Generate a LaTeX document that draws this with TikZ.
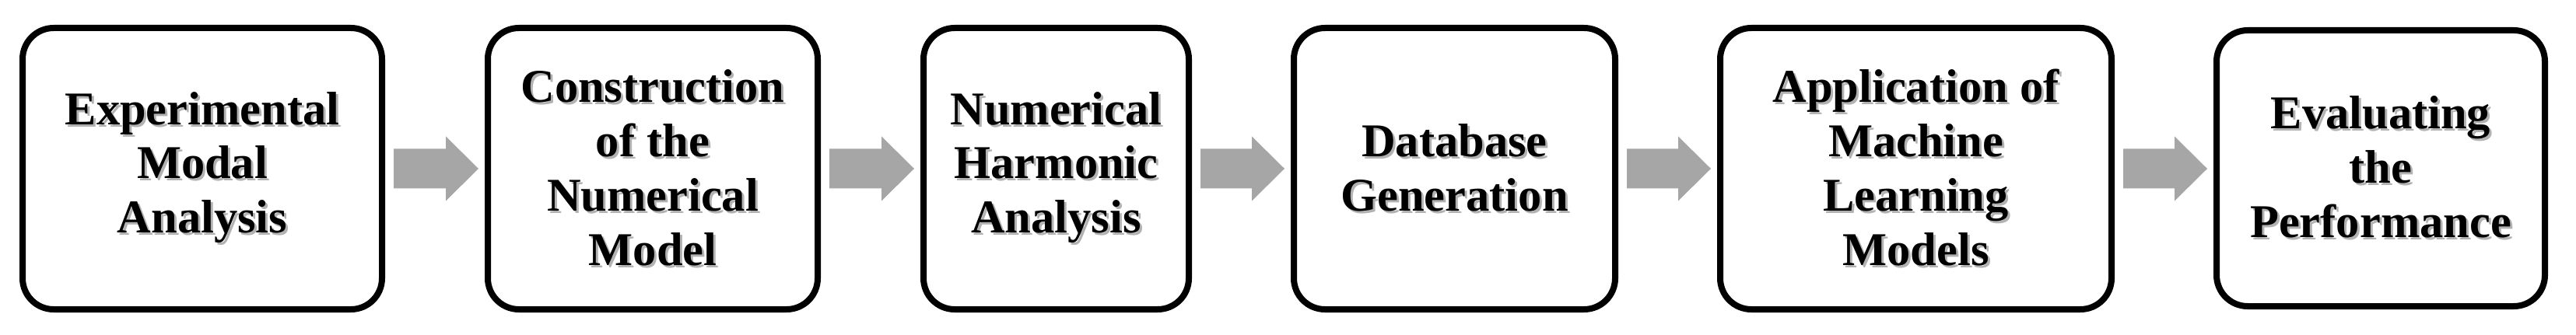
\documentclass[tikz,border=0pt]{standalone}
\usepackage{fontspec}
\setmainfont{Liberation Serif}
\usetikzlibrary{calc,shadows}
\definecolor{arrowgray}{HTML}{A6A6A6}
\newcommand{\tsh}[1]{\makebox[0pt][l]{\hspace{0.03cm}\raisebox{-0.03cm}{\color{black!30}#1}}#1}
\tikzset{
  stepbox/.style={draw=black, line width=0.08cm, rounded corners=0.4cm, fill=white,
    minimum height=3.62cm, inner sep=0pt, align=center,
    font=\fontsize{17.2pt}{19.9pt}\selectfont\bfseries,
    drop shadow={shadow xshift=0.025cm, shadow yshift=-0.03cm, fill=black, opacity=0.3}},
}
\newcommand{\blockarrow}[2]{%
  \fill[arrowgray] let \p1=(#1.east), \p2=(#2.west) in
    (\x1+0.11cm,\y1+0.255cm) -- (\x2-0.50cm,\y1+0.255cm) -- (\x2-0.50cm,\y1+0.415cm)
    -- (\x2-0.08cm,\y1) -- (\x2-0.50cm,\y1-0.415cm) -- (\x2-0.50cm,\y1-0.255cm)
    -- (\x1+0.11cm,\y1-0.255cm) -- cycle;}
\begin{document}
\begin{tikzpicture}
\useasboundingbox (0,0) rectangle (33.11,4.30);
\node[stepbox, minimum width=4.62cm] (b1) at (2.60,2.13) {\tsh{Experimental}\\\tsh{Modal}\\\tsh{Analysis}};
\node[stepbox, minimum width=4.24cm] (b2) at (8.39,2.13) {\tsh{Construction}\\\tsh{of the}\\\tsh{Numerical}\\\tsh{Model}};
\node[stepbox, minimum width=3.41cm] (b3) at (13.575,2.13) {\tsh{Numerical}\\\tsh{Harmonic}\\\tsh{Analysis}};
\node[stepbox, minimum width=4.13cm] (b4) at (18.695,2.13) {\tsh{Database}\\\tsh{Generation}};
\node[stepbox, minimum width=5.03cm] (b5) at (24.625,2.13) {\tsh{Application of}\\\tsh{Machine}\\\tsh{Learning}\\\tsh{Models}};
\node[stepbox, minimum width=4.22cm, minimum height=3.55cm] (b6) at (30.60,2.135) {\tsh{Evaluating}\\\tsh{the}\\\tsh{Performance}};
\blockarrow{b1}{b2}
\blockarrow{b2}{b3}
\blockarrow{b3}{b4}
\blockarrow{b4}{b5}
\blockarrow{b5}{b6}
\end{tikzpicture}
\end{document}
